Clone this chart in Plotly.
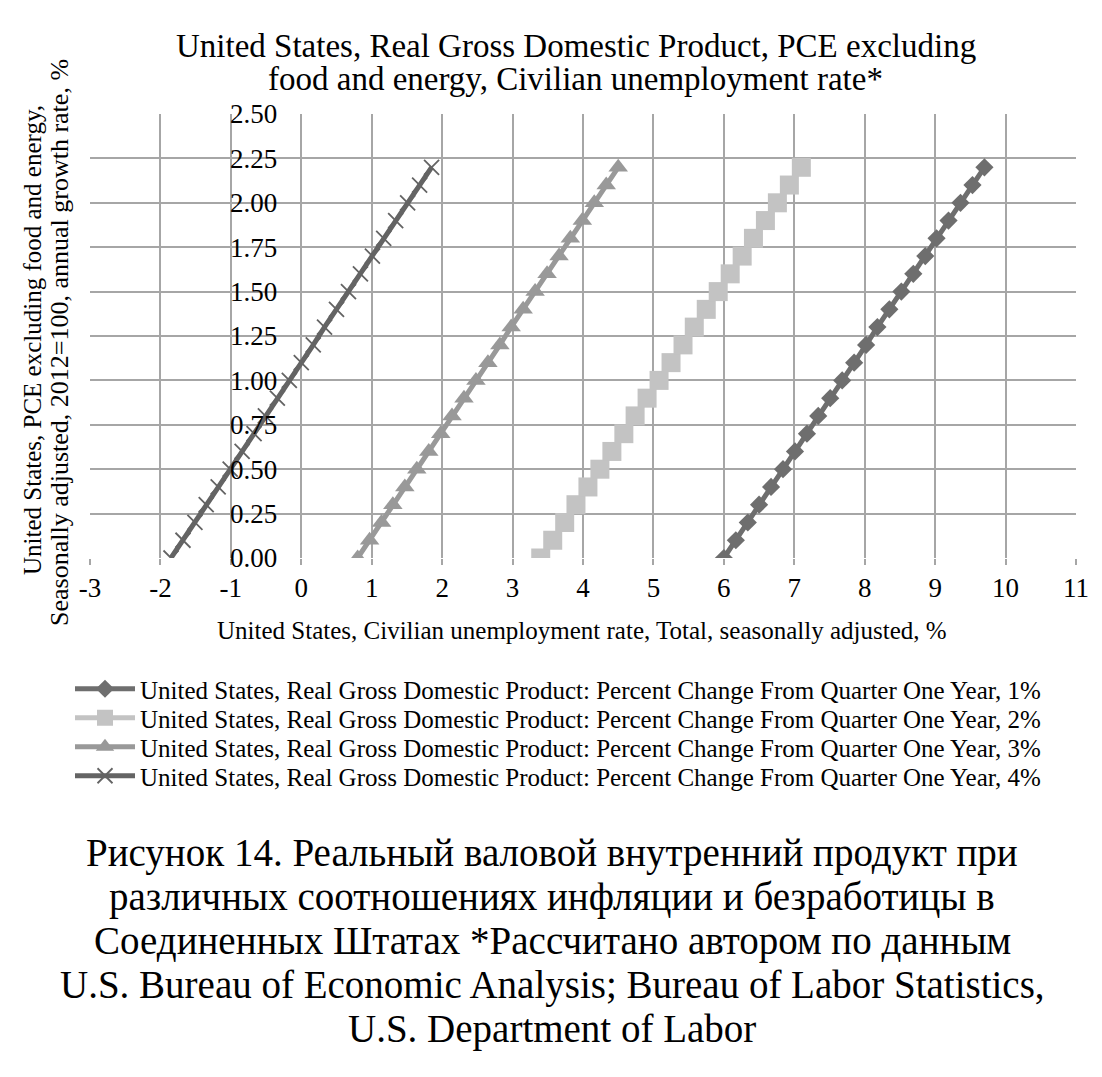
import plotly.graph_objects as go

# Inflation (PCE excluding food and energy), % — y values shared by all series
pce = [0.0, 0.1, 0.2, 0.3, 0.4, 0.5, 0.6, 0.7, 0.8, 0.9, 1.0, 1.1,
       1.2, 1.3, 1.4, 1.5, 1.6, 1.7, 1.8, 1.9, 2.0, 2.1, 2.2]

# Unemployment rate, % — one list per GDP growth scenario
unemp_1 = [6.00, 6.17, 6.34, 6.50, 6.67, 6.84, 7.01, 7.18, 7.34, 7.51, 7.68, 7.85,
           8.02, 8.18, 8.35, 8.52, 8.69, 8.86, 9.02, 9.19, 9.36, 9.53, 9.70]
unemp_2 = [3.40, 3.57, 3.74, 3.90, 4.07, 4.24, 4.41, 4.58, 4.74, 4.91, 5.08, 5.25,
           5.42, 5.58, 5.75, 5.92, 6.09, 6.26, 6.42, 6.59, 6.76, 6.93, 7.10]
unemp_3 = [0.80, 0.97, 1.14, 1.30, 1.47, 1.64, 1.81, 1.98, 2.14, 2.31, 2.48, 2.65,
           2.82, 2.98, 3.15, 3.32, 3.49, 3.66, 3.82, 3.99, 4.16, 4.33, 4.50]
unemp_4 = [-1.85, -1.68, -1.51, -1.35, -1.18, -1.01, -0.84, -0.67, -0.51, -0.34, -0.17, 0.00,
           0.17, 0.33, 0.50, 0.67, 0.84, 1.01, 1.17, 1.34, 1.51, 1.68, 1.85]

series_names = [
    "United States, Real Gross Domestic Product: Percent Change From Quarter One Year, 1%",
    "United States, Real Gross Domestic Product: Percent Change From Quarter One Year, 2%",
    "United States, Real Gross Domestic Product: Percent Change From Quarter One Year, 3%",
    "United States, Real Gross Domestic Product: Percent Change From Quarter One Year, 4%",
]

x_ticks = list(range(-3, 12))
y_ticks = [0.0, 0.25, 0.5, 0.75, 1.0, 1.25, 1.5, 1.75, 2.0, 2.25, 2.5]

title_lines = ["United States, Real Gross Domestic Product, PCE excluding",
               "food and energy, Civilian unemployment rate*"]
x_title = "United States, Civilian unemployment rate, Total, seasonally adjusted, %"
y_title_lines = ["United States, PCE excluding food and energy,",
                 "Seasonally adjusted, 2012=100, annual growth rate, %"]
caption_lines = ["Рисунок 14. Реальный валовой внутренний продукт при",
                 "различных соотношениях инфляции и безработицы в",
                 "Соединенных Штатах *Рассчитано автором по данным",
                 "U.S. Bureau of Economic Analysis; Bureau of Labor Statistics,",
                 "U.S. Department of Labor"]

FONT = "Liberation Serif, Times New Roman, serif"
GRID = "#a6a6a6"

W, H = 1102, 1077
ML, MR, MT, MB = 90, 26, 114, 519
PW, PH = W - ML - MR, H - MT - MB


def px_x(px):
    return (px - ML) / PW


def px_y(py):
    return (H - MB - py) / PH


fig = go.Figure()
styles = [
    dict(color="#6e6e6e", symbol="diamond", size=14, lw=5, mline=0),
    dict(color="#c3c3c3", symbol="square", size=19, lw=5, mline=0),
    dict(color="#999999", symbol="triangle-up", size=17, lw=5, mline=0),
    dict(color="#646464", symbol="x-thin", size=15, lw=5, mline=1.8),
]
legend_ids = ["legend", "legend2", "legend3", "legend4"]
legend_rows = [689, 718, 747, 776]

for xs, name, st, lg in zip([unemp_1, unemp_2, unemp_3, unemp_4], series_names, styles, legend_ids):
    fig.add_trace(go.Scatter(
        x=xs, y=pce, name=name, mode="lines+markers", legend=lg,
        line=dict(color=st["color"], width=st["lw"]),
        marker=dict(symbol=st["symbol"], size=st["size"], color=st["color"],
                    line=dict(color=st["color"], width=st["mline"])),
    ))

legend_layout = {}
for lg, row in zip(legend_ids, legend_rows):
    legend_layout[lg] = dict(
        xref="paper", yref="paper",
        x=px_x(70), y=px_y(row), xanchor="left", yanchor="middle",
        font=dict(family=FONT, size=25, color="black"),
        itemwidth=60, bgcolor="rgba(0,0,0,0)", borderwidth=0,
    )

annotations = []
for txt, cx, cy in zip(title_lines, [576, 575], [46, 79]):
    annotations.append(dict(text=txt, xref="paper", yref="paper",
                            x=px_x(cx), y=px_y(cy), xanchor="center", yanchor="middle",
                            showarrow=False, font=dict(family=FONT, size=33, color="black")))
annotations.append(dict(text=x_title, xref="paper", yref="paper",
                        x=px_x(582), y=px_y(630), xanchor="center", yanchor="middle",
                        showarrow=False, font=dict(family=FONT, size=25, color="black")))
for txt, cx, cy, fs in zip(y_title_lines, [32, 59], [340, 343], [25, 26]):
    annotations.append(dict(text=txt, xref="paper", yref="paper",
                            x=px_x(cx), y=px_y(cy), xanchor="center", yanchor="middle",
                            textangle=-90, showarrow=False,
                            font=dict(family=FONT, size=fs, color="black")))
for i, txt in enumerate(caption_lines):
    annotations.append(dict(text=txt, xref="paper", yref="paper",
                            x=px_x(552), y=px_y(853 + 44 * i), xanchor="center", yanchor="middle",
                            showarrow=False, font=dict(family=FONT, size=39, color="black")))

fig.update_layout(
    width=W, height=H,
    margin=dict(l=ML, r=MR, t=MT, b=MB, autoexpand=False),
    paper_bgcolor="white", plot_bgcolor="white",
    font=dict(family=FONT, color="black", size=20),
    showlegend=True,
    xaxis=dict(
        range=[-3, 11], tickvals=x_ticks, ticktext=[str(v) for v in x_ticks],
        showgrid=True, gridcolor=GRID, gridwidth=2,
        zeroline=False, showline=False, automargin=False,
        ticks="outside", ticklen=6, tickcolor=GRID, tickwidth=2,
        tickfont=dict(family=FONT, size=27, color="black"),
        fixedrange=True,
    ),
    yaxis=dict(
        range=[0, 2.5], tickvals=y_ticks, ticktext=[f"{v:.2f}" for v in y_ticks],
        showgrid=True, gridcolor=GRID, gridwidth=2,
        zeroline=False, showline=False, automargin=False,
        anchor="free", position=3 / 14,
        ticks="", ticklabelstandoff=24,
        tickfont=dict(family=FONT, size=27, color="black"),
        fixedrange=True,
    ),
    annotations=annotations,
    **legend_layout,
)

fig.write_html("out.html")
